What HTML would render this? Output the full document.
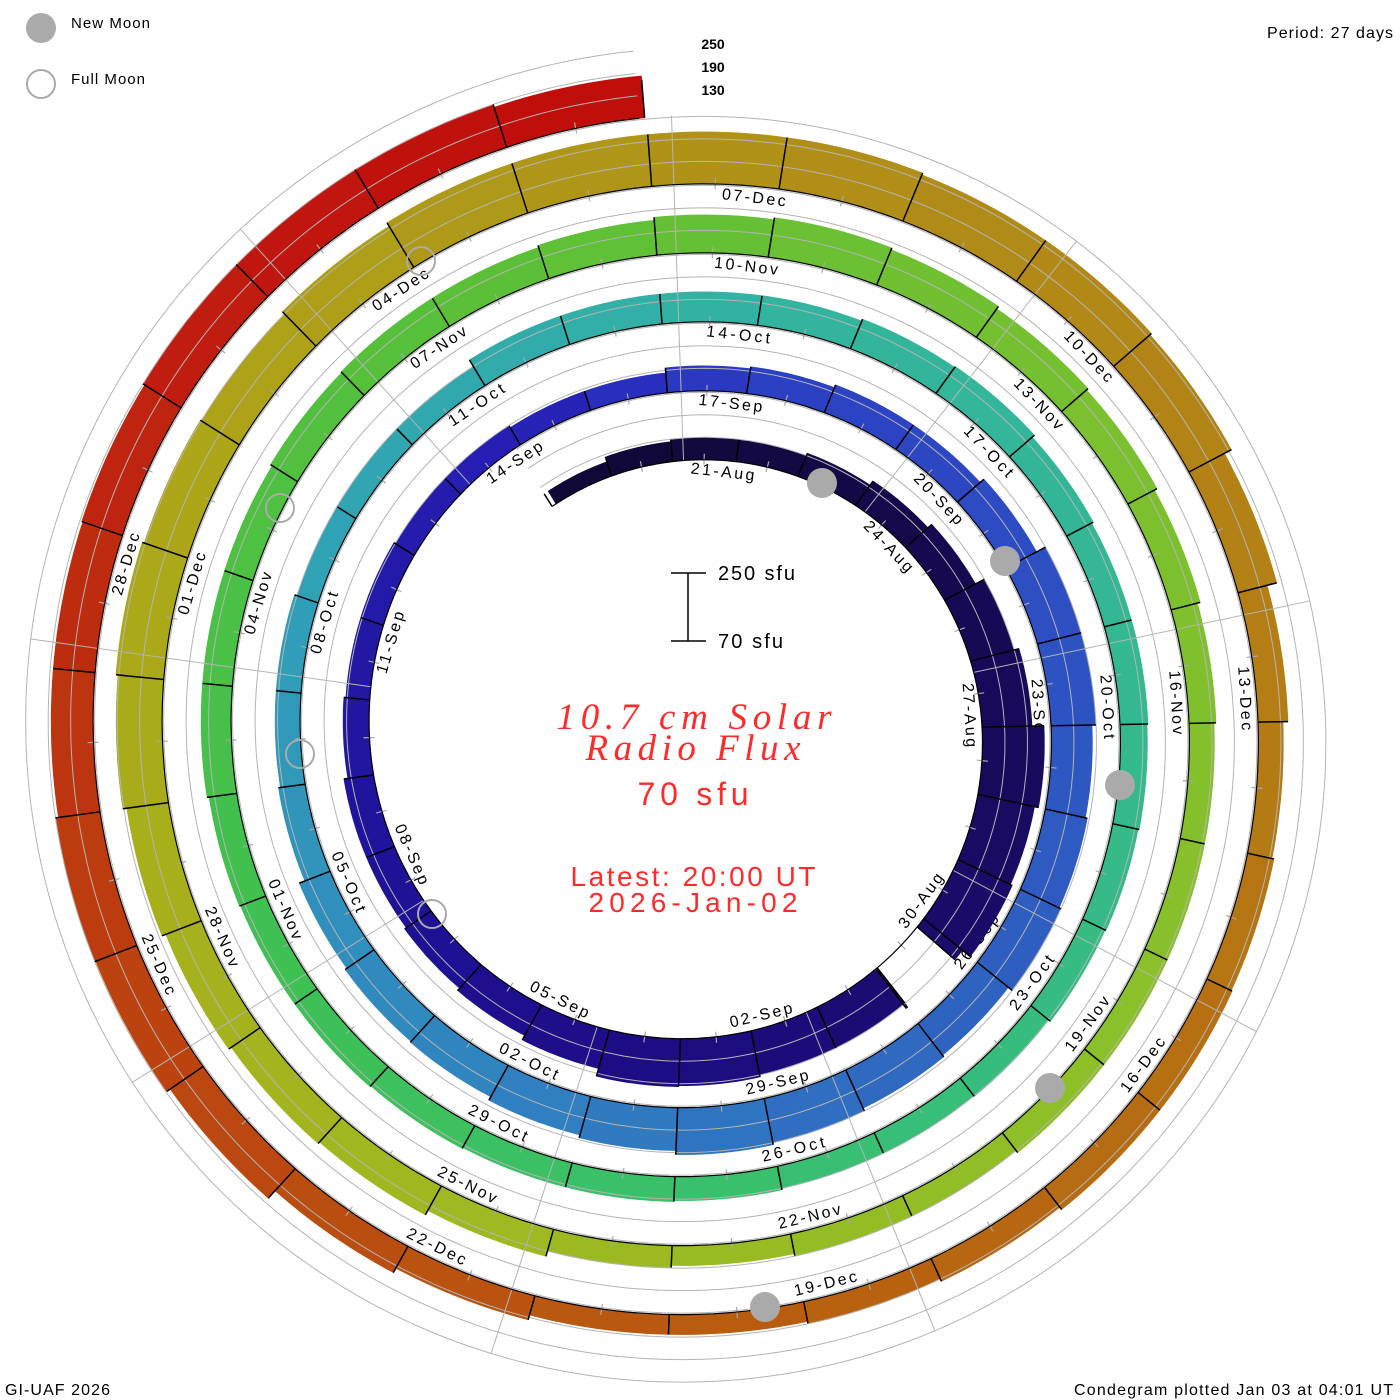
<!DOCTYPE html>
<html><head><meta charset="utf-8"><style>
html,body{margin:0;padding:0;background:#fff;}
svg{display:block;}
.sans{font-family:"Liberation Sans",sans-serif;}
.dl{font-size:16px;fill:#000;text-anchor:middle;dominant-baseline:central;}
</style></head><body>
<svg id="s" width="1400" height="1400" viewBox="0 0 1400 1400" xmlns="http://www.w3.org/2000/svg">
<rect width="1400" height="1400" fill="#fff"/>
<g id="labels" class="sans">
<text class="dl" x="693" y="470.8" transform="rotate(6.5 693 732)" textLength="64">21-Aug</text>
<text class="dl" x="693" y="463.1" transform="rotate(46.5 693 732)" textLength="64">24-Aug</text>
<text class="dl" x="693" y="455.4" transform="rotate(86.5 693 732)" textLength="64">27-Aug</text>
<text class="dl" x="693" y="1016.2" transform="rotate(-53.5 693 732)" textLength="64">30-Aug</text>
<text class="dl" x="693" y="1023.9" transform="rotate(-13.5 693 732)" textLength="64">02-Sep</text>
<text class="dl" x="693" y="1031.6" transform="rotate(26.5 693 732)" textLength="64">05-Sep</text>
<text class="dl" x="693" y="1039.2" transform="rotate(66.5 693 732)" textLength="64">08-Sep</text>
<text class="dl" x="693" y="417.1" transform="rotate(-73.5 693 732)" textLength="64">11-Sep</text>
<text class="dl" x="693" y="409.4" transform="rotate(-33.5 693 732)" textLength="64">14-Sep</text>
<text class="dl" x="693" y="401.8" transform="rotate(6.5 693 732)" textLength="64">17-Sep</text>
<text class="dl" x="693" y="394.1" transform="rotate(46.5 693 732)" textLength="64">20-Sep</text>
<text class="dl" x="693" y="386.4" transform="rotate(86.5 693 732)" textLength="64">23-Sep</text>
<text class="dl" x="693" y="1085.2" transform="rotate(-53.5 693 732)" textLength="64">26-Sep</text>
<text class="dl" x="693" y="1092.9" transform="rotate(-13.5 693 732)" textLength="64">29-Sep</text>
<text class="dl" x="693" y="1100.6" transform="rotate(26.5 693 732)" textLength="64">02-Oct</text>
<text class="dl" x="693" y="1108.2" transform="rotate(66.5 693 732)" textLength="64">05-Oct</text>
<text class="dl" x="693" y="348.1" transform="rotate(-73.5 693 732)" textLength="64">08-Oct</text>
<text class="dl" x="693" y="340.4" transform="rotate(-33.5 693 732)" textLength="64">11-Oct</text>
<text class="dl" x="693" y="332.8" transform="rotate(6.5 693 732)" textLength="64">14-Oct</text>
<text class="dl" x="693" y="325.1" transform="rotate(46.5 693 732)" textLength="64">17-Oct</text>
<text class="dl" x="693" y="317.4" transform="rotate(86.5 693 732)" textLength="64">20-Oct</text>
<text class="dl" x="693" y="1154.2" transform="rotate(-53.5 693 732)" textLength="64">23-Oct</text>
<text class="dl" x="693" y="1161.9" transform="rotate(-13.5 693 732)" textLength="64">26-Oct</text>
<text class="dl" x="693" y="1169.6" transform="rotate(26.5 693 732)" textLength="64">29-Oct</text>
<text class="dl" x="693" y="1177.2" transform="rotate(66.5 693 732)" textLength="64">01-Nov</text>
<text class="dl" x="693" y="279.1" transform="rotate(-73.5 693 732)" textLength="64">04-Nov</text>
<text class="dl" x="693" y="271.4" transform="rotate(-33.5 693 732)" textLength="64">07-Nov</text>
<text class="dl" x="693" y="263.8" transform="rotate(6.5 693 732)" textLength="64">10-Nov</text>
<text class="dl" x="693" y="256.1" transform="rotate(46.5 693 732)" textLength="64">13-Nov</text>
<text class="dl" x="693" y="248.4" transform="rotate(86.5 693 732)" textLength="64">16-Nov</text>
<text class="dl" x="693" y="1223.2" transform="rotate(-53.5 693 732)" textLength="64">19-Nov</text>
<text class="dl" x="693" y="1230.9" transform="rotate(-13.5 693 732)" textLength="64">22-Nov</text>
<text class="dl" x="693" y="1238.6" transform="rotate(26.5 693 732)" textLength="64">25-Nov</text>
<text class="dl" x="693" y="1246.2" transform="rotate(66.5 693 732)" textLength="64">28-Nov</text>
<text class="dl" x="693" y="210.1" transform="rotate(-73.5 693 732)" textLength="64">01-Dec</text>
<text class="dl" x="693" y="202.4" transform="rotate(-33.5 693 732)" textLength="64">04-Dec</text>
<text class="dl" x="693" y="194.8" transform="rotate(6.5 693 732)" textLength="64">07-Dec</text>
<text class="dl" x="693" y="187.1" transform="rotate(46.5 693 732)" textLength="64">10-Dec</text>
<text class="dl" x="693" y="179.4" transform="rotate(86.5 693 732)" textLength="64">13-Dec</text>
<text class="dl" x="693" y="1292.2" transform="rotate(-53.5 693 732)" textLength="64">16-Dec</text>
<text class="dl" x="693" y="1299.9" transform="rotate(-13.5 693 732)" textLength="64">19-Dec</text>
<text class="dl" x="693" y="1307.6" transform="rotate(26.5 693 732)" textLength="64">22-Dec</text>
<text class="dl" x="693" y="1315.2" transform="rotate(66.5 693 732)" textLength="64">25-Dec</text>
<text class="dl" x="693" y="141.1" transform="rotate(-73.5 693 732)" textLength="64">28-Dec</text>
</g>
<g id="bars"></g>
<g id="over"></g>
<g id="moons" fill="#aaaaaa">
<circle cx="822" cy="483" r="15"/>
<circle cx="1005" cy="561" r="15"/>
<circle cx="1120" cy="785" r="15"/>
<circle cx="1050" cy="1088" r="15"/>
<circle cx="765" cy="1307" r="15"/>
</g>
<g fill="none" stroke="#aaaaaa" stroke-width="2">
<circle cx="421" cy="261" r="14"/>
<circle cx="280" cy="508" r="14"/>
<circle cx="300" cy="754" r="14"/>
<circle cx="432" cy="914" r="14"/>
</g>
<circle cx="41" cy="28" r="15" fill="#aaaaaa"/>
<circle cx="41" cy="84" r="14" fill="none" stroke="#aaaaaa" stroke-width="2"/>
<g class="sans">
<text x="71" y="28" font-size="15" textLength="79">New Moon</text>
<text x="71" y="84" font-size="15" textLength="74">Full Moon</text>
<text x="1267" y="38" font-size="16" textLength="126">Period: 27 days</text>
<text x="5" y="1395" font-size="16" textLength="105">GI-UAF 2026</text>
<text x="1074" y="1395" font-size="16" textLength="319">Condegram plotted Jan 03 at 04:01 UT</text>
<g font-size="14" font-weight="bold" text-anchor="middle">
<text x="713" y="49">250</text>
<text x="713" y="72">190</text>
<text x="713" y="95">130</text>
</g>
<text x="718" y="580" font-size="20" textLength="77">250 sfu</text>
<text x="718" y="648" font-size="20" textLength="65">70 sfu</text>
</g>
<g stroke="#000" stroke-width="1.5">
<line x1="688" y1="573" x2="688" y2="641"/>
<line x1="671" y1="573" x2="706" y2="573"/>
<line x1="671" y1="641" x2="706" y2="641"/>
</g>
<g fill="#ff2a2a" text-anchor="middle">
<text x="694" y="729" style="font-family:'Liberation Serif',serif;font-style:italic;font-size:37px" textLength="275">10.7 cm Solar</text>
<text x="693" y="760" style="font-family:'Liberation Serif',serif;font-style:italic;font-size:37px" textLength="215">Radio Flux</text>
<text class="sans" x="693" y="805" font-size="32" textLength="111">70 sfu</text>
<text class="sans" x="693" y="886" font-size="28" textLength="245">Latest: 20:00 UT</text>
<text class="sans" x="693" y="912" font-size="28" textLength="209">2026-Jan-02</text>
</g>
</svg>
<script>
(function(){
var NS="http://www.w3.org/2000/svg";
var cx=693,cy=732,P0=-32,PEND=1795.5,GAP=[131,142];
function R(p){return 272+69*p/360;}
function pt(p,r){var a=p*Math.PI/180;return [cx+r*Math.sin(a),cy-r*Math.cos(a)];}
function ph(d){return 9+40*d/3;}
var rows=[
[15,20,22,22,25,30,35,45,50,62,58,60,50,45,45,47,48,40,35,32,30,30,26,24,24,22,22],
[20,20,25,27,30,30,35,45,45,41,43,45,40,42,45,47,43,40,36,35,33,27,25,25,22,22,22],
[30,30,30,30,32,33,30,28,28,27,26,25,23,22,22,24,25,25,26,27,27,28,30,30,30,32,33],
[33,35,38,40,38,35,33,30,27,25,25,25,25,22,22,20,22,28,33,35,38,42,46,48,46,45,48],
[52,52,52,52,50,50,48,40,30,25,27,28,28,25,22,20,20,25,30,40,44,45,42,42,43,45,45,45,42,38]];
var vals=[].concat.apply([],rows);
var H={};for(var i=0;i<vals.length;i++)H[i-3]=vals[i];
function gh(d){return H[d]||0;}
var stops=[[-3,[16,8,52]],[6,[24,10,90]],[15,[30,14,140]],[24,[38,30,180]],[27,[44,62,196]],[36,[46,96,192]],[42,[48,130,192]],[48,[48,160,184]],[54,[50,180,160]],[60,[52,184,144]],[66,[56,192,112]],[72,[64,192,80]],[78,[88,192,56]],[84,[120,192,48]],[90,[140,192,40]],[96,[160,184,32]],[102,[172,168,24]],[108,[176,144,24]],[114,[180,124,20]],[120,[184,96,16]],[126,[188,64,16]],[131,[192,24,16]],[135,[192,8,8]]];
function col(d){
 for(var i=0;i<stops.length-1;i++){var a=stops[i],b=stops[i+1];
  if(d<=b[0]){var t=Math.max(0,(d-a[0])/(b[0]-a[0]));
   return "rgb("+[0,1,2].map(function(k){return Math.round(a[1][k]+(b[1][k]-a[1][k])*t);}).join(",")+")";}}
 return "rgb(192,8,8)";}
function el(tag,attrs,parent){var e=document.createElementNS(NS,tag);for(var k in attrs)e.setAttribute(k,attrs[k]);parent.appendChild(e);return e;}
var bars=document.getElementById("bars"),over=document.getElementById("over");
function OFF(f){return (f-70)*0.375;}
function wedge(a0,a1,h,c){
 if(a1<=a0||!h)return;
 var n=Math.max(2,Math.ceil(a1-a0)),s="",back=[];
 for(var j=0;j<=n;j++){var p=a0+(a1-a0)*j/n;var q=pt(p,R(p));s+=(j?"L":"M")+q[0].toFixed(1)+","+q[1].toFixed(1);back.push(pt(p,R(p)+h));}
 for(var j=back.length-1;j>=0;j--)s+="L"+back[j][0].toFixed(1)+","+back[j][1].toFixed(1);
 el("path",{d:s+"Z",fill:c,stroke:c,"stroke-width":"0.6"},bars);
}
for(var d=-3;d<=134;d++){
 var h=gh(d);var a0=Math.max(ph(d),P0),a1=Math.min(ph(d+1),PEND);var c=col(d+0.5);
 if(a1<=GAP[0]||a0>=GAP[1])wedge(a0,a1,h,c);
 else{wedge(a0,Math.min(a1,GAP[0]),h,c);wedge(Math.max(a0,GAP[1]),a1,h,c);}
}
[130,190,250].forEach(function(f){
 var s="";for(var p=P0;p<=PEND;p+=1){var q=pt(p,R(p)+OFF(f));s+=(p==P0?"M":"L")+q[0].toFixed(1)+","+q[1].toFixed(1);}
 el("path",{d:s,fill:"none",stroke:"#b4b4b4","stroke-width":"1"},over);
});
for(var k=0;k<9;k++){var p=-2+40*k;var r1=R(p),r2=(k==0)?R(p+1800):R(p+1440)+68;
 var A=pt(p,r1),B=pt(p,r2);el("line",{x1:A[0],y1:A[1],x2:B[0],y2:B[1],stroke:"#b4b4b4","stroke-width":"1"},over);}
for(var d=-2;d<=133;d++){var p=ph(d)+20/3;if(p>PEND)break;var r=R(p);var A=pt(p,r-5),B=pt(p,r+6);
 el("line",{x1:A[0],y1:A[1],x2:B[0],y2:B[1],stroke:"#a8a8a8","stroke-width":"1.2"},over);}
var s="";for(var p=P0;p<=PEND;p+=1){var q=pt(p,R(p));s+=(p==P0?"M":"L")+q[0].toFixed(1)+","+q[1].toFixed(1);}
el("path",{d:s,fill:"none",stroke:"#000","stroke-width":"1.2"},over);
for(var d=-2;d<=134;d++){var p=ph(d);if(p>PEND)break;if(p>GAP[0]&&p<GAP[1])continue;var hh=Math.max(gh(d-1),gh(d));if(!hh)continue;
 var A=pt(p,R(p)),B=pt(p,R(p)+hh);el("line",{x1:A[0],y1:A[1],x2:B[0],y2:B[1],stroke:"#000","stroke-width":"1.5"},over);}
[[P0,gh(-3)],[PEND,gh(134)],[GAP[0],gh(9)],[GAP[1],gh(10)]].forEach(function(e){if(!e[1])return;var A=pt(e[0],R(e[0])),B=pt(e[0],R(e[0])+e[1]);el("line",{x1:A[0],y1:A[1],x2:B[0],y2:B[1],stroke:"#000","stroke-width":"1.5"},over);});
})();
</script>
</body></html>
